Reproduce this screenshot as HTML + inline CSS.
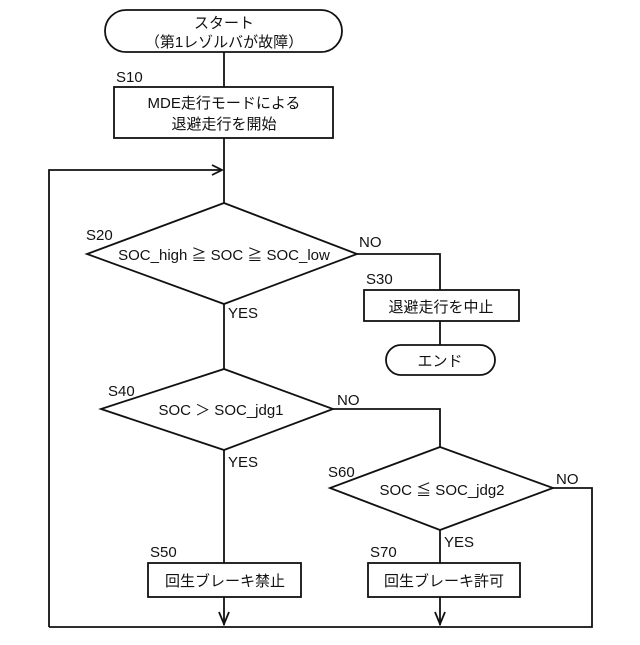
<!DOCTYPE html>
<html><head><meta charset="utf-8"><style>
body{margin:0;background:#fff}
svg text{font-family:"Liberation Sans","Noto Sans CJK JP",sans-serif;font-size:15px;fill:#111}
</style></head><body>
<svg width="640" height="640" viewBox="0 0 640 640" xmlns="http://www.w3.org/2000/svg">
<g fill="none" stroke="#111" stroke-width="1.8">
<rect x="105" y="10" width="237" height="42" rx="21"/>
<line x1="224" y1="52" x2="224" y2="87"/>
<rect x="114" y="87" width="219" height="51"/>
<line x1="224" y1="138" x2="224" y2="203"/>
<polyline points="49,627 49,170 222,170"/>
<polyline points="212,165 222,170 212,175"/>
<polygon points="224,203 357,254 224,304 87,254"/>
<polyline points="357,254 440,254 440,290"/>
<rect x="364" y="290" width="155" height="31"/>
<line x1="440" y1="321" x2="440" y2="345"/>
<rect x="386" y="345" width="109" height="30" rx="15"/>
<line x1="224" y1="304" x2="224" y2="369"/>
<polygon points="224,369 333,409 224,450 101,409"/>
<polyline points="333,409 440,409 440,447"/>
<polygon points="440,447 553,488 440,530 330,488"/>
<polyline points="553,488 592,488 592,627 49,627"/>
<line x1="224" y1="450" x2="224" y2="563"/>
<rect x="148" y="563" width="153" height="34"/>
<line x1="224" y1="597" x2="224" y2="625"/>
<polyline points="219,612 224,624 229,612"/>
<line x1="440" y1="530" x2="440" y2="563"/>
<rect x="368" y="563" width="152" height="34"/>
<line x1="440" y1="597" x2="440" y2="625"/>
<polyline points="435,612 440,624 445,612"/>
</g>
<text x="224" y="28" text-anchor="middle">スタート</text>
<text x="224" y="47" text-anchor="middle">（第1レゾルバが故障）</text>
<text x="116" y="82">S10</text>
<text x="224" y="108" text-anchor="middle">MDE走行モードによる</text>
<text x="224" y="129" text-anchor="middle">退避走行を開始</text>
<text x="86" y="240">S20</text>
<text x="224" y="260" text-anchor="middle">SOC_high ≧ SOC ≧ SOC_low</text>
<text x="359" y="247">NO</text>
<text x="366" y="284">S30</text>
<text x="441" y="312" text-anchor="middle">退避走行を中止</text>
<text x="440" y="366" text-anchor="middle">エンド</text>
<text x="228" y="318">YES</text>
<text x="108" y="396">S40</text>
<text x="221" y="415" text-anchor="middle">SOC ＞ SOC_jdg1</text>
<text x="337" y="405">NO</text>
<text x="228" y="467">YES</text>
<text x="328" y="477">S60</text>
<text x="442" y="495" text-anchor="middle">SOC ≦ SOC_jdg2</text>
<text x="556" y="484">NO</text>
<text x="444" y="547">YES</text>
<text x="150" y="557">S50</text>
<text x="225" y="586" text-anchor="middle">回生ブレーキ禁止</text>
<text x="370" y="557">S70</text>
<text x="444" y="586" text-anchor="middle">回生ブレーキ許可</text>
</svg>
</body></html>
